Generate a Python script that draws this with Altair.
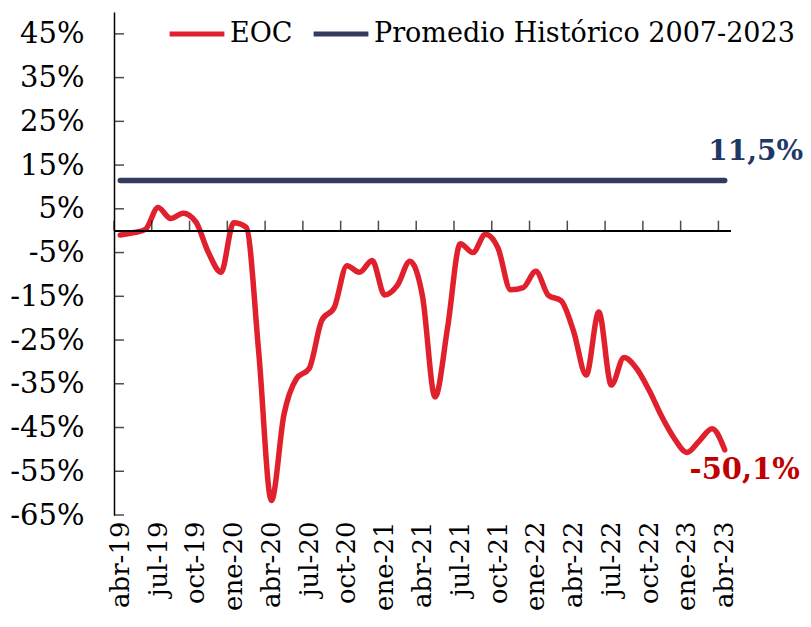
import altair as alt
import pandas as pd

# ---------------- data ----------------
tick_labels = ["abr-19", "jul-19", "oct-19", "ene-20", "abr-20", "jul-20", "oct-20",
               "ene-21", "abr-21", "jul-21", "oct-21", "ene-22", "abr-22", "jul-22",
               "oct-22", "ene-23", "abr-23"]
# monthly EOC values (%) from abr-19 to abr-23
eoc = [-1.0, -0.5, 0.3, 5.3, 2.8, 4.0, 2.0, -5.0, -9.5, 1.8, 0.8, -28.0,
       -61.7, -42.0, -33.8, -31.5, -20.5, -17.5, -8.0, -9.5, -6.8, -14.7, -12.5, -7.0,
       -15.0, -38.0, -22.0, -3.0, -5.0, -0.8, -4.0, -13.5, -13.0, -9.3, -14.8, -16.0,
       -23.0, -33.0, -18.6, -35.3, -29.0, -31.5, -36.5, -42.5, -47.5, -50.7, -48.0, -45.3,
       -50.1]
promedio = 11.5
y_ticks = [-65, -55, -45, -35, -25, -15, -5, 5, 15, 25, 35, 45]
series_names = ["EOC", "Promedio Histórico 2007-2023"]
colors = ["#E0212D", "#333A5E"]
label_colors = ["#C00000", "#1F3864"]

n = len(eoc)
FONT = "DejaVu Serif"

df_eoc = pd.DataFrame({"i": list(range(n)), "v": eoc, "s": series_names[0]})
df_avg = pd.DataFrame({"i": [0, n - 1], "v": [promedio, promedio], "s": series_names[1]})
df = pd.concat([df_eoc, df_avg], ignore_index=True)

df_xt = pd.DataFrame({"b": [k - 0.5 for k in range(0, n, 3)]})
df_yt = pd.DataFrame({"t": y_ticks})


def fmt(v):
    return f"{v:.1f}%".replace(".", ",")


df_ann_avg = pd.DataFrame({"i": [n - 1], "v": [promedio], "label": [fmt(promedio)]})
df_ann_eoc = pd.DataFrame({"i": [n - 1], "v": [eoc[-1]], "label": [fmt(eoc[-1])]})

# ---------------- scales / axes ----------------
x_scale = alt.Scale(domain=[-0.5, n - 0.5], nice=False, zero=False)
y_scale = alt.Scale(domain=[-65, 50], nice=False, zero=False)

label_expr = "[" + ",".join(f"'{t}'" for t in tick_labels) + "][round(datum.value/3)]"

x_axis = alt.Axis(values=list(range(0, n, 3)), labelExpr=label_expr, labelAngle=-90,
                  labelAlign="right", labelBaseline="middle", domain=False, ticks=False,
                  grid=False, labelPadding=6, labelFont=FONT, labelFontSize=26,
                  labelColor="black", title=None, labelOverlap=False)
y_axis = alt.Axis(values=y_ticks, labelExpr="datum.value + '%'", domain=True,
                  domainColor="black", domainWidth=1.5, ticks=False, grid=False,
                  labelPadding=30, labelFont=FONT, labelFontSize=29, labelColor="black",
                  title=None, labelOverlap=False)

lines = alt.Chart(df).mark_line(strokeWidth=5.5, interpolate="monotone", strokeCap="round").encode(
    x=alt.X("i:Q", scale=x_scale, axis=x_axis),
    y=alt.Y("v:Q", scale=y_scale, axis=y_axis),
    color=alt.Color("s:N", scale=alt.Scale(domain=series_names, range=colors),
                    legend=alt.Legend(orient="none", legendX=53, legendY=-8,
                                      direction="horizontal", title=None,
                                      symbolType="stroke", symbolSize=3000,
                                      symbolStrokeWidth=5, labelFont=FONT,
                                      labelFontSize=27, labelColor="black",
                                      labelOffset=3, columnPadding=10, labelLimit=0)),
    detail="s:N",
)

zero_line = alt.Chart(df_xt).mark_rule(color="black", strokeWidth=1.5).encode(
    y=alt.Y(datum=0, scale=y_scale, axis=y_axis),
    x=alt.X(datum=-0.5, scale=x_scale, axis=x_axis),
    x2=alt.X2(datum=n - 0.5),
)

x_ticks = alt.Chart(df_xt).mark_tick(orient="vertical", size=10, thickness=1.5,
                                     yOffset=-5, color="black").encode(
    x=alt.X("b:Q", scale=x_scale, axis=x_axis),
    y=alt.Y(datum=0, scale=y_scale, axis=y_axis),
)

y_tick_marks = alt.Chart(df_yt).mark_tick(orient="horizontal", size=10, thickness=1.5,
                                          xOffset=5, color="black").encode(
    y=alt.Y("t:Q", scale=y_scale, axis=y_axis),
    x=alt.X(datum=-0.5, scale=x_scale, axis=x_axis),
)

ann_avg = alt.Chart(df_ann_avg).mark_text(font=FONT, fontSize=28, fontWeight="bold",
                                          color=label_colors[1], dx=31, dy=-28).encode(
    x=alt.X("i:Q", scale=x_scale, axis=x_axis),
    y=alt.Y("v:Q", scale=y_scale, axis=y_axis),
    text="label:N",
)
ann_eoc = alt.Chart(df_ann_eoc).mark_text(font=FONT, fontSize=29, fontWeight="bold",
                                          color=label_colors[0], dx=20, dy=20).encode(
    x=alt.X("i:Q", scale=x_scale, axis=x_axis),
    y=alt.Y("v:Q", scale=y_scale, axis=y_axis),
    text="label:N",
)

chart = alt.layer(lines, zero_line, x_ticks, y_tick_marks, ann_avg, ann_eoc).properties(
    width=617, height=503,
    padding={"left": 106, "top": 4, "right": 72, "bottom": 104},
    autosize=alt.AutoSizeParams(type="none"),
    background="white",
).configure_view(stroke=None)

chart.save("out.html", embed_options={"renderer": "svg", "actions": False})
